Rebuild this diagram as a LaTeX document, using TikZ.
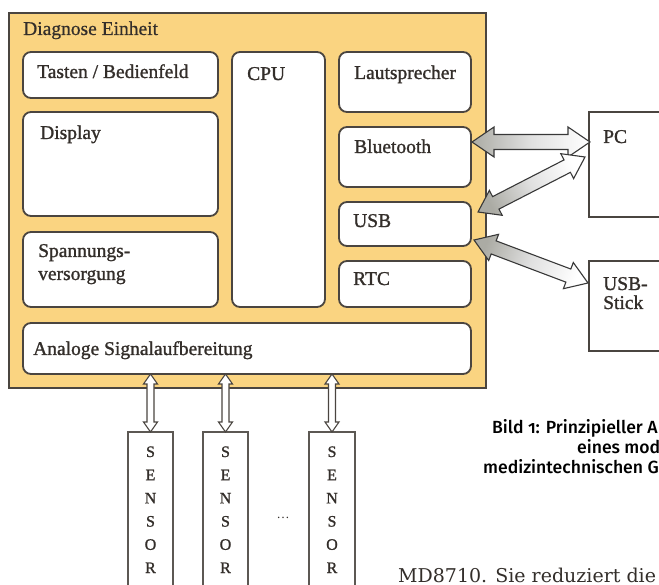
\documentclass[tikz,border=0pt]{standalone}
\usepackage{fontspec}
\setmainfont{Liberation Serif}
\newfontfamily\labelfont[FakeBold=1.2]{Liberation Serif}
\newfontfamily\lightlabelfont[FakeBold=0.6]{Liberation Serif}
\IfFontExistsTF{Fira Sans Medium}
  {\newfontfamily\capfont[Numbers=OldStyle]{Fira Sans Medium}}
  {\newfontfamily\capfont[Numbers=OldStyle,FakeBold=0.4]{Fira Sans}}
\newfontfamily\bodyfont{DejaVu Serif}
\usetikzlibrary{calc}

\definecolor{panel}{HTML}{FAD481}
\definecolor{edge}{HTML}{4A4540}
\definecolor{ink}{HTML}{332E2A}
\definecolor{arrowgray}{HTML}{ABABA4}

% double-headed block arrow from #1 to #2
% #3 shaft half width, #4 head half width, #5 head length, #6 paint options
\newcommand\twoway[6]{%
  \coordinate (h1) at ($(#1)!#5!(#2)$);
  \coordinate (h2) at ($(#2)!#5!(#1)$);
  \path[#6] (#1) -- ($(h1)!#4!90:(#2)$) -- ($(h1)!#3!90:(#2)$)
    -- ($(h2)!#3!-90:(#1)$) -- ($(h2)!#4!-90:(#1)$) -- (#2)
    -- ($(h2)!#4!90:(#1)$) -- ($(h2)!#3!90:(#1)$)
    -- ($(h1)!#3!-90:(#2)$) -- ($(h1)!#4!-90:(#2)$) -- cycle;
}

\tikzset{
  unit/.style={draw=edge, line width=1.8pt, fill=white, rounded corners=8pt,
    anchor=north west, inner sep=0pt, outer sep=0pt},
  device/.style={draw=edge, line width=1.3pt, fill=white,
    anchor=north west, inner sep=0pt, outer sep=0pt},
  probe/.style={draw=edge!90, line width=1.1pt, fill=white,
    anchor=north west, inner sep=0pt, outer sep=0pt},
  lbl/.style={anchor=base west, inner sep=0pt, text=ink,
    font=\labelfont\fontsize{19.5}{23}\selectfont},
  letter/.style={anchor=base, inner sep=0pt, text=ink,
    font=\labelfont\fontsize{16}{18}\selectfont},
  caption/.style={anchor=base west, inner sep=0pt, text=black,
    font=\capfont\fontsize{17.6}{20}\selectfont},
  bigarrow/.style={draw=black!78, line width=1.1pt, line join=miter},
  smallarrow/.style={draw=edge, line width=1.1pt, fill=white, line join=miter},
}

\begin{document}
\begin{tikzpicture}[x=1pt,y=-1pt]
\useasboundingbox (0,0) rectangle (659,585);

% main unit
\node[draw=edge, line width=1.5pt, fill=panel, anchor=north west,
  inner sep=0pt, outer sep=0pt, minimum width=477pt, minimum height=375pt]
  (unit) at (9,13) {};
\node[lbl, font=\lightlabelfont\fontsize{19.5}{23}\selectfont] (tunit) at (23,35) {Diagnose Einheit};

% function blocks
\node[unit, minimum width=195pt, minimum height=46pt] (keys) at (23,52) {};
\node[unit, minimum width=195pt, minimum height=104pt] (disp) at (23,112) {};
\node[unit, minimum width=195pt, minimum height=75pt] (power) at (23,232) {};
\node[unit, minimum width=93pt, minimum height=255pt] (cpu) at (232,52) {};
\node[unit, minimum width=132pt, minimum height=60pt] (spk) at (339,52) {};
\node[unit, minimum width=132pt, minimum height=60pt] (bt) at (339,127) {};
\node[unit, minimum width=132pt, minimum height=44pt] (usb) at (339,202) {};
\node[unit, minimum width=132pt, minimum height=46pt] (rtc) at (339,261) {};
\node[unit, minimum width=448pt, minimum height=51pt] (adc) at (23,323) {};

\node[lbl] (tkeys) at (37,78) {Tasten / Bedienfeld};
\node[lbl] (tdisp) at (40,139) {Display};
\node[lbl] (tpow1) at (38,257) {Spannungs-};
\node[lbl] (tpow2) at (38,280) {versorgung};
\node[lbl] (tcpu) at (247,80) {CPU};
\node[lbl] (tspk) at (354,79) {Lautsprecher};
\node[lbl] (tbt) at (354,153) {Bluetooth};
\node[lbl] (tusb) at (353,227) {USB};
\node[lbl] (trtc) at (353,285) {RTC};
\node[lbl] (tadc) at (33,355) {Analoge Signalaufbereitung};

% external devices
\node[device, minimum width=110pt, minimum height=105pt] (pc) at (589,112) {};
\node[device, minimum width=110pt, minimum height=90pt] (stick) at (589,261) {};
\node[lbl] (tpc) at (603,143) {PC};
\node[lbl] (tst1) at (603,290) {USB-};
\node[lbl] (tst2) at (603,309) {Stick};

% links to the external devices
\coordinate (btA) at ($(bt.east)+(1,-15)$);
\coordinate (btB) at ($(pc.north west)+(1,30)$);
\coordinate (upA) at ($(usb.north east)+(7,10)$);
\coordinate (upB) at ($(pc.north west)+(-4,45)$);
\coordinate (usA) at ($(usb.south east)+(3,-6)$);
\coordinate (usB) at ($(stick.north west)+(-1,22)$);
\twoway{btA}{btB}{7.5pt}{15pt}{22pt}{bigarrow, top color=white, bottom color=arrowgray, middle color=black!12, shading angle=-90}
\twoway{upA}{upB}{7pt}{14pt}{20pt}{bigarrow, top color=white, bottom color=arrowgray, middle color=black!12, shading angle=-63}
\twoway{usA}{usB}{7pt}{14pt}{21pt}{bigarrow, top color=white, bottom color=arrowgray, middle color=black!12, shading angle=-111}

% sensors
\node[probe, minimum width=45pt, minimum height=200pt] (s1) at (128,432) {};
\node[probe, minimum width=45pt, minimum height=200pt] (s2) at (203,432) {};
\node[probe, minimum width=46pt, minimum height=200pt] (s3) at (309,432) {};
\foreach \s in {s1,s2,s3}{
  \foreach \ch [count=\k from 0] in {S,E,N,S,O,R}{
    \node[letter] (\s-\k) at ($(\s.north)+(0,25+23.2*\k)$) {\ch};
  }
  \coordinate (\s-top) at ($(adc.south west)!(\s.north)!(adc.south east)$);
  \twoway{\s-top}{\s.north}{3.5pt}{7pt}{10pt}{smallarrow}
}
\node[inner sep=0pt, text=ink, font=\fontsize{13}{15}\selectfont] (more) at (283,518) {\dots};

% figure caption
\node[caption] (cap1) at (492,433) {Bild 1: Prinzipieller A};
\node[caption] (cap2) at (577,453) {eines mode};
\node[caption] (cap3) at (483,473) {medizintechnischen G};

% running text
\node[anchor=base west, inner sep=0pt, text=ink,
  font=\bodyfont\fontsize{19}{23}\selectfont] (body) at (398,582) {MD8710. Sie reduziert die};
\end{tikzpicture}
\end{document}
